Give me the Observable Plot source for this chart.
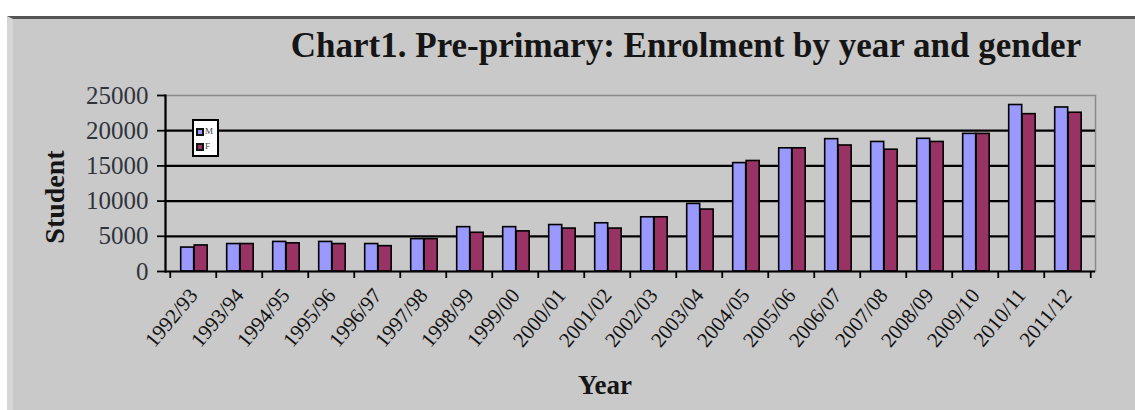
<!DOCTYPE html>
<html>
<head>
<meta charset="utf-8">
<script src="https://cdn.jsdelivr.net/npm/d3@7"></script>
<script src="https://cdn.jsdelivr.net/npm/@observablehq/plot@0.6"></script>
<style>
  html, body { margin: 0; padding: 0; background: #fff; }
  #wrap { position: relative; width: 1135px; height: 410px; overflow: hidden; background: #fff; font-family: "Liberation Serif", "DejaVu Serif", serif; }
  #panel { position: absolute; left: 7px; top: 16px; right: 0; bottom: 0; background: #c9c9c9; border-top: 3px solid #555; border-left: 6px solid #d6d6d6; }
  #chart { position: absolute; left: 0; top: 0; }
  #title { position: absolute; left: 286px; width: 800px; top: 28px; text-align: center; font-weight: bold; font-size: 35px; line-height: 35px; color: #151515; white-space: nowrap; }
  #ylab { position: absolute; left: 55px; top: 197px; transform: translate(-50%, -50%) rotate(-90deg); font-weight: bold; font-size: 28px; color: #151515; white-space: nowrap; }
  #xlab { position: absolute; left: 605px; top: 370px; transform: translateX(-50%); font-weight: bold; font-size: 27px; color: #151515; white-space: nowrap; }
  #legend { position: absolute; left: 192px; top: 119px; width: 23px; height: 34px; background: #fff; border: 2px solid #000; font-size: 9px; color: #444; }
  .li { position: absolute; left: 2px; height: 10px; line-height: 10px; white-space: nowrap; }
  .sw { display: inline-block; width: 4px; height: 4px; border: 2px solid #111; vertical-align: middle; margin-right: 1px; }
  svg [aria-label="y-axis tick label"] { font-size: 25px; fill: #30343c; }
  svg [aria-label="x-axis tick label"] { font-size: 21px; fill: #111; }
</style>
</head>
<body>
<div id="wrap">
  <div id="panel"></div>
  <div id="chart"></div>
  <div id="title"></div>
  <div id="ylab"></div>
  <div id="xlab"></div>
  <div id="legend"></div>
</div>
<script>
const years = ["1992/93","1993/94","1994/95","1995/96","1996/97","1997/98","1998/99","1999/00","2000/01","2001/02","2002/03","2003/04","2004/05","2005/06","2006/07","2007/08","2008/09","2009/10","2010/11","2011/12"];
const male   = [3400,3900,4200,4200,3900,4600,6300,6300,6600,6850,7700,9600,15400,17500,18800,18400,18850,19550,23650,23300];
const female = [3700,3900,4000,3900,3600,4600,5500,5700,6100,6100,7700,8800,15700,17500,17900,17300,18400,19550,22350,22550];
const seriesNames = ["M", "F"];
const seriesColors = ["#9999ff", "#993366"];
const yTicks = [0, 5000, 10000, 15000, 20000, 25000];
const gridTicks = [5000, 10000, 15000, 20000];
const titleText = "Chart1. Pre-primary: Enrolment by year and gender";
const yLabel = "Student";
const xLabel = "Year";

const maleData = years.map((y, i) => ({year: y, value: male[i]}));
const femaleData = years.map((y, i) => ({year: y, value: female[i]}));

const W = 1135, H = 410;
const mL = 165, mR = 40, mT = 95, mB = 139;
const bw = (W - mL - mR) / years.length;

const plot = Plot.plot({
  width: W,
  height: H,
  marginLeft: mL,
  marginRight: mR,
  marginTop: mT,
  marginBottom: mB,
  style: {background: "transparent", fontFamily: "Liberation Serif, DejaVu Serif, serif", overflow: "visible"},
  x: {domain: years, padding: 0},
  y: {domain: [0, 25000]},
  marks: [
    Plot.frame({stroke: "#8a8a8a", strokeWidth: 1.5}),
    Plot.ruleY(gridTicks, {stroke: "#000", strokeWidth: 2.2}),
    Plot.barY(maleData, {x: "year", y: "value", fill: seriesColors[0], stroke: "#000", strokeWidth: 1.6, insetLeft: bw * 0.23, insetRight: bw * 0.48}),
    Plot.barY(femaleData, {x: "year", y: "value", fill: seriesColors[1], stroke: "#000", strokeWidth: 1.6, insetLeft: bw * 0.52, insetRight: bw * 0.19}),
    Plot.ruleY([0], {stroke: "#000", strokeWidth: 2.2}),
    Plot.frame({anchor: "left", stroke: "#000", strokeWidth: 2.2}),
    Plot.axisY({ticks: yTicks, tickSize: 8, tickPadding: 9, tickFormat: d => String(d), label: null, stroke: "#000", strokeWidth: 1.8}),
    Plot.axisX({tickSize: 0, tickRotate: -50, tickPadding: 20, label: null}),
    Plot.axisX({tickSize: 7, tickFormat: () => "", dx: -bw / 2, label: null, stroke: "#000", strokeWidth: 1.8}),
    Plot.axisX({ticks: [years[years.length - 1]], tickSize: 7, tickFormat: () => "", dx: bw / 2, label: null, stroke: "#000", strokeWidth: 1.8})
  ]
});
document.getElementById("chart").appendChild(plot);

document.getElementById("title").textContent = titleText;
document.getElementById("ylab").textContent = yLabel;
document.getElementById("xlab").textContent = xLabel;

const legend = document.getElementById("legend");
seriesNames.forEach((name, i) => {
  const row = document.createElement("div");
  row.className = "li";
  row.style.top = (5 + i * 15) + "px";
  const sw = document.createElement("span");
  sw.className = "sw";
  sw.style.background = seriesColors[i];
  row.appendChild(sw);
  row.appendChild(document.createTextNode(name));
  legend.appendChild(row);
});
</script>
</body>
</html>
